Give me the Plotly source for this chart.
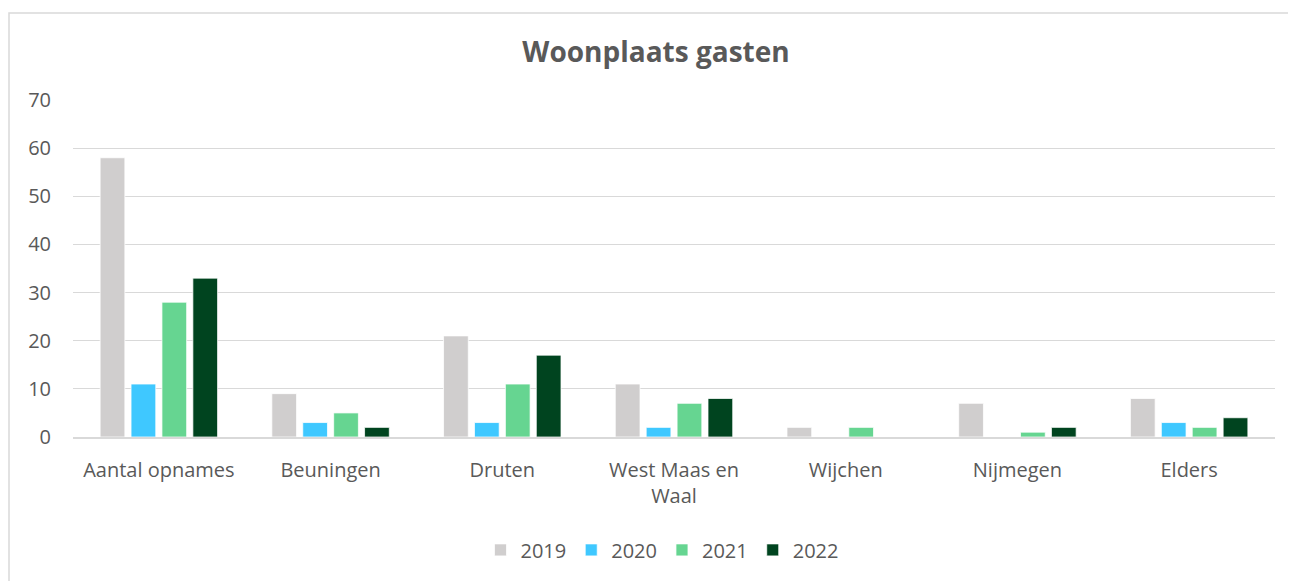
import plotly.graph_objects as go

categories = ["Aantal opnames", "Beuningen", "Druten", "West Maas en<br>Waal",
              "Wijchen", "Nijmegen", "Elders"]
years = ["2019", "2020", "2021", "2022"]
v2019 = [58, 9, 21, 11, 2, 7, 8]
v2020 = [11, 3, 3, 2, 0, 0, 3]
v2021 = [28, 5, 11, 7, 2, 1, 2]
v2022 = [33, 2, 17, 8, 0, 2, 4]
colors = ["#D0CECE", "#3FC8FF", "#66D591", "#00441F"]

fig = go.Figure()
for name, vals, col in zip(years, [v2019, v2020, v2021, v2022], colors):
    fig.add_trace(go.Bar(x=categories, y=vals, name=name,
                         marker=dict(color=col, line=dict(color="white", width=0.75))))

# page body has an 8px margin, so the margins are shifted by that amount
fig.update_layout(
    width=1296, height=581,
    margin=dict(l=65, r=29, t=92, b=152),
    paper_bgcolor="white", plot_bgcolor="white",
    font=dict(family="Open Sans, Noto Sans, sans-serif", size=20, color="#595959"),
    title=dict(text="<b>Woonplaats gasten</b>", x=0.5, xanchor="center",
               y=1 - 44 / 581, yanchor="middle",
               font=dict(size=28, color="#595959", family="Open Sans, sans-serif")),
    barmode="group", bargap=0.28, bargroupgap=0.2,
    showlegend=True,
    legend=dict(orientation="h", x=0.49, xanchor="center", y=-0.335, yanchor="middle",
                font=dict(size=20, color="#595959"), itemwidth=30),
    xaxis=dict(showgrid=False, showline=True, linecolor="#D9D9D9", linewidth=1.5,
               ticks="", ticklabelstandoff=14, tickfont=dict(size=20, color="#595959")),
    yaxis=dict(range=[0, 70], dtick=10, showgrid=True, gridcolor="#D9D9D9",
               gridwidth=1, zeroline=False, showline=False, ticks="",
               anchor="free", position=0, side="left", automargin=False,
               ticklabelstandoff=22,
               tickfont=dict(size=20, color="#595959")),
)

# outer chart border (right and bottom edges fall outside the window)
fig.add_shape(type="rect", xref="paper", yref="paper",
              x0=-64 / 1202, x1=1 + 40 / 1202, y0=-170 / 337, y1=1 + 87 / 337,
              line=dict(color="#D9D9D9", width=1.5), fillcolor="rgba(0,0,0,0)")

fig.write_html("out.html")
